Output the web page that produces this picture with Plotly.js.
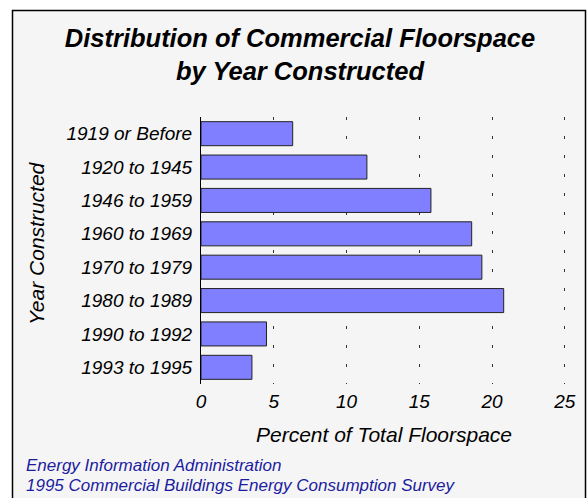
<!DOCTYPE html>
<html>
<head>
<meta charset="utf-8">
<script src="https://cdn.plot.ly/plotly-3.0.1.min.js"></script>
<style>
html,body{margin:0;padding:0;background:#ffffff;}
#chart{width:587px;height:498px;}
</style>
</head>
<body>
<div id="chart"></div>
<script>
const categories = ["1919 or Before","1920 to 1945","1946 to 1959","1960 to 1969","1970 to 1979","1980 to 1989","1990 to 1992","1993 to 1995"];
const percentFloorspace = [6.3, 11.4, 15.8, 18.6, 19.3, 20.8, 4.5, 3.5];
const xTickValues = [0, 5, 10, 15, 20, 25];
const titleText = "Distribution of Commercial Floorspace<br>by Year Constructed";
const xTitleText = "Percent of Total Floorspace";
const yTitleText = "Year Constructed";
const sourceLines = ["Energy Information Administration", "1995 Commercial Buildings Energy Consumption Survey"];

const FONT = "Liberation Sans, Arial, Helvetica, sans-serif";

const trace = {
  type: "bar",
  orientation: "h",
  y: categories,
  x: percentFloorspace,
  marker: {color: "#7f7fff", line: {color: "#222222", width: 1}},
  hoverinfo: "x+y"
};

const X_MAX = 25.15;
const L = 201, R = 20, T = 117, B = 114;
const plotW = 587 - L - R, plotH = 498 - T - B;
const px = v => (v - L) / plotW;
const py = v => (498 - B - v) / plotH;

const annotations = sourceLines.map((t, i) => ({
  text: t, xref: "paper", yref: "paper",
  x: px(24), y: py(466 + i * 19),
  xanchor: "left", yanchor: "middle", showarrow: false,
  font: {family: FONT, size: 17, style: "italic", color: "#1c1ca0"}
}));
annotations.push({
  text: yTitleText, xref: "paper", yref: "paper",
  x: px(36), y: py(243), textangle: -90,
  xanchor: "center", yanchor: "middle", showarrow: false,
  font: {family: FONT, size: 21, style: "italic", color: "#000000"}
});

const layout = {
  width: 587, height: 498,
  margin: {l: L, r: R, t: T, b: B, pad: 0},
  paper_bgcolor: "#ffffff",
  plot_bgcolor: "rgba(0,0,0,0)",
  font: {family: FONT, color: "#000000"},
  showlegend: false,
  bargap: 0.28,
  title: {
    text: titleText,
    font: {family: FONT, size: 25.5, weight: "bold", style: "italic", color: "#000000"},
    x: 300 / 587, xref: "container", xanchor: "center",
    y: 1 - 47 / 498, yref: "container", yanchor: "top"
  },
  xaxis: {
    range: [0, X_MAX],
    tickvals: xTickValues,
    ticktext: xTickValues.map(String),
    showline: false,
    zeroline: false,
    showgrid: true,
    gridcolor: "#333333",
    gridwidth: 1,
    griddash: "3px,16px",
    ticks: "",
    ticklabelstandoff: 4,
    tickfont: {family: FONT, size: 19, style: "italic", color: "#000000"},
    title: {text: xTitleText, font: {family: FONT, size: 21, style: "italic", color: "#000000"}, standoff: 16},
    fixedrange: true
  },
  yaxis: {
    type: "category",
    categoryorder: "array",
    categoryarray: categories,
    autorange: "reversed",
    showline: true,
    linecolor: "#000000",
    linewidth: 1,
    showgrid: false,
    zeroline: false,
    ticks: "",
    ticklabelstandoff: 4,
    tickfont: {family: FONT, size: 19, style: "italic", color: "#000000"},
    fixedrange: true
  },
  shapes: [{
    type: "rect", xref: "paper", yref: "paper", layer: "below",
    x0: px(12.5), x1: px(585.5), y0: py(520), y1: py(10.5),
    fillcolor: "#f5f5f5",
    line: {color: "#000000", width: 1.5}
  }],
  annotations: annotations
};

Plotly.newPlot("chart", [trace], layout, {displayModeBar: false, staticPlot: true});
</script>
</body>
</html>
